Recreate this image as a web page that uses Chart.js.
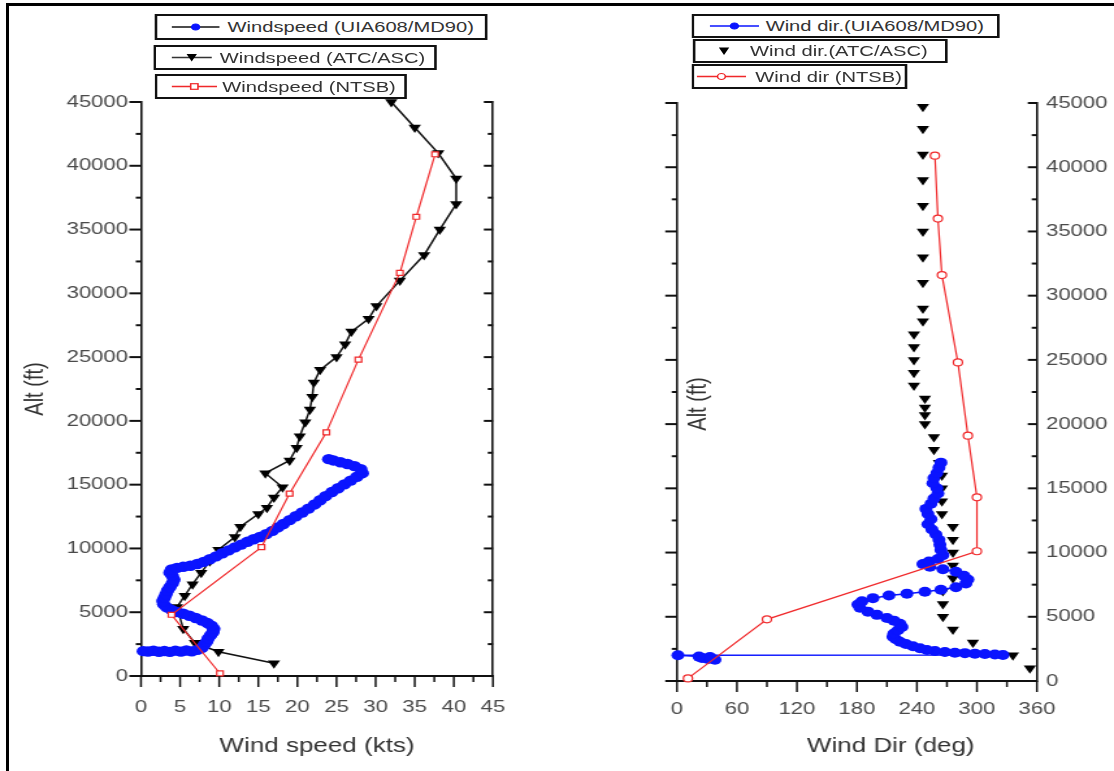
<!DOCTYPE html>
<html><head><meta charset="utf-8">
<script src="https://cdn.jsdelivr.net/npm/chart.js@4/dist/chart.umd.min.js"></script>
<style>
html,body{margin:0;padding:0;background:#fff;width:1114px;height:771px;overflow:hidden;}
#frame{position:absolute;left:6px;top:3px;width:1120px;height:780px;border-top:3px solid #000;border-left:3px solid #000;}
#wrap{position:absolute;left:0;top:0;width:857px;height:771px;transform:scaleX(1.29988);transform-origin:0 0;}
canvas{position:absolute;top:0;}
.lg{position:absolute;border:2px solid #111;background:#fff;font-family:"Liberation Sans",Arial,sans-serif;font-size:15.5px;color:#333;white-space:nowrap;box-sizing:border-box;}
.lg svg{position:absolute;top:0;}
.lg span{position:absolute;top:0;}
</style></head>
<body>
<div id="frame"></div>
<div id="wrap">
<canvas id="c1" width="430" height="771" style="left:0;width:430px;height:771px"></canvas>
<canvas id="c2" width="427" height="771" style="left:430px;width:427px;height:771px"></canvas>
</div>
<script>
// ---------- data ----------
const altTicks = [0,5000,10000,15000,20000,25000,30000,35000,40000,45000];
const speedTicks = [0,5,10,15,20,25,30,35,40,45];
const dirTicks = [0,60,120,180,240,300,360];

const uiaSpeedAlt = [1950,1920,1980,1900,1960,1890,1990,1910,2000,1930,
  2050,2200,2450,2700,2950,3200,3450,3700,3950,4150,
  4350,4550,4720,4880,5020,5180,5380,5620,5880,6150,
  6420,6700,6980,7260,7550,7850,8100,8350,8480,8560,
  8640,8780,8950,9150,9380,9620,9850,10080,10300,10520,
  10720,10900,11120,11380,11650,11920,12220,12520,12820,13120,
  13450,13780,14100,14420,14720,15020,15320,15620,15900,16220,
  16450,16620,16760,16900,17000];
const uiaSpeed = [0.3,0.9,1.6,2.3,3.0,3.7,4.4,5.1,5.8,6.5,
  7.2,7.8,8.1,8.4,8.6,8.9,9.2,9.3,9.0,8.5,
  7.8,7.0,6.2,5.4,4.6,3.9,3.3,2.9,2.8,3.0,
  3.2,3.4,3.7,4.0,4.2,4.0,3.7,3.9,4.6,5.4,
  6.3,7.2,8.0,8.8,9.6,10.4,11.2,12.0,12.8,13.6,
  14.4,15.2,16.0,16.8,17.5,18.2,19.0,19.8,20.6,21.4,
  22.2,22.9,23.6,24.4,25.2,26.0,26.8,27.6,28.3,28.1,
  27.3,26.4,25.5,24.6,24.0];

const atcSpeedAlt = [1000,1900,2600,3700,5400,6300,7200,8100,9000,9900,
  10900,11700,12700,13200,14000,14800,15900,16900,17900,18800,
  19900,20900,21900,23000,24000,25000,26000,27000,28000,29000,
  31000,33000,35000,37000,39000,41000,43000,45000];
const atcSpeed = [17.0,9.9,6.9,5.4,4.6,5.6,6.6,7.7,8.8,9.9,
  12.0,12.7,15.0,16.1,17.0,18.1,15.9,19.0,19.9,20.3,
  21.0,21.6,21.9,22.1,22.9,25.0,26.1,26.9,29.1,30.1,
  33.1,36.2,38.2,40.3,40.3,38.0,35.0,32.0];

const ntsbAlt = [200,4800,10100,14300,19100,24800,31600,36000,40900];
const ntsbSpeed = [10.1,3.9,15.4,19.0,23.7,27.8,33.1,35.2,37.6];
const ntsbDir = [11,90,300,300,291,281,265,261,258];

const uiaDirAlt = [1650,1720,1800,1870,1900,2000,2020,2060,2100,2130,
  2170,2200,2260,2330,2420,2550,2700,2880,3050,3250,
  3450,3700,3950,4200,4450,4700,4900,5150,5400,5700,
  5950,6200,6450,6650,6800,6950,7100,7300,7600,7900,
  8200,8500,8700,8900,9100,9300,9500,9800,10200,10600,
  11000,11400,11800,12200,12600,13000,13400,13800,14200,14600,
  15000,15400,15800,16200,16600,17000];
const uiaDir = [38,31,25,33,22,1,326,318,308,298,
  288,278,268,258,250,243,236,229,223,219,
  216,217,221,225,223,217,210,200,191,183,
  181,185,196,212,230,248,264,279,289,291,
  287,279,266,253,246,252,261,266,264,263,
  262,259,255,251,254,251,249,254,257,261,
  260,256,257,260,262,264];

const atcDirAlt = [1000,2000,3000,4000,5000,6000,7000,8000,9000,10000,
  11000,12000,13000,14000,15000,16000,17000,18000,19000,20000,
  20700,21300,22000,23000,24000,25000,26000,27000,28000,29000,
  31000,33000,35000,37000,39000,41000,43000,44700];
const atcDir = [353,336,296,276,266,266,266,276,276,276,
  276,276,265,265,265,265,262,257,257,248,
  248,248,248,237,237,237,237,237,246,246,
  246,246,246,246,246,246,246,246];

const speedNames = ['Windspeed (UIA608/MD90)','Windspeed (ATC/ASC)','Windspeed (NTSB)'];
const dirNames = ['Wind dir.(UIA608/MD90)','Wind dir.(ATC/ASC)','Wind dir (NTSB)'];
const axisTitles = {speed:'Wind speed (kts)', dir:'Wind Dir (deg)', alt:'Alt (ft)'};

// ---------- helpers ----------
const FONT = "'Liberation Sans', Arial, sans-serif";
Chart.defaults.font.family = FONT;
const pts = (xs, ys) => xs.map((x, i) => ({x: x, y: ys[i]}));
const setTicks = arr => (s => { s.ticks = arr.map(v => ({value: v})); });

const axisTicks = {
  id: 'axisTicks',
  afterDraw(chart, args, opts) {
    const ctx = chart.ctx, a = chart.chartArea;
    ctx.save();
    ctx.strokeStyle = '#111';
    for (const m of opts.marks) {
      const s = chart.scales[m.scale];
      const vals = [];
      m.ticks.forEach((v, i) => {
        vals.push([v, true]);
        if (i < m.ticks.length - 1) vals.push([(v + m.ticks[i + 1]) / 2, false]);
      });
      for (const [v, major] of vals) {
        const len = major ? m.major : m.minor;
        const p = s.getPixelForValue(v);
        ctx.lineWidth = m.width;
        ctx.beginPath();
        if (m.edge === 'bottom') { ctx.moveTo(p, a.bottom); ctx.lineTo(p, a.bottom + len); }
        else { const x0 = m.edge === 'left' ? a.left : a.right; ctx.moveTo(x0, p); ctx.lineTo(x0 - len, p); }
        ctx.stroke();
      }
    }
    ctx.restore();
  }
};

const extraTitles = {
  id: 'extraTitles',
  afterDraw(chart, args, opts) {
    if (!opts.show) return;
    const ctx = chart.ctx, a = chart.chartArea;
    ctx.save();
    ctx.fillStyle = '#333';
    ctx.font = '20px ' + FONT;
    ctx.textAlign = 'center';
    ctx.textBaseline = 'middle';
    ctx.fillText(axisTitles.dir, (a.left + a.right) / 2 + 26, chart.scales.x.bottom - 25);
    ctx.translate(a.left + 17, (a.top + a.bottom) / 2 + 12);
    ctx.rotate(-Math.PI / 2);
    ctx.fillText(axisTitles.alt, 0, 0);
    ctx.restore();
  }
};

const tickFont = {size: 17, family: FONT};
const titleFont = {size: 20, family: FONT};
const gridOff = {display: true, drawOnChartArea: false, drawTicks: false};

function altAxis(pos, width, showLabels, pad, title) {
  return {
    type: 'linear', position: pos, min: 0, max: 45000,
    afterBuildTicks: setTicks(altTicks),
    afterFit: s => { s.width = width; },
    grid: gridOff,
    border: {display: true, color: '#111', width: 1.6},
    ticks: {display: showLabels, padding: pad, color: '#4a4a4a', font: tickFont, callback: v => String(v)},
    title: title ? {display: true, text: axisTitles.alt, color: '#333', font: titleFont, padding: {top: 15, bottom: 0}} : {display: false}
  };
}

function xAxis(min, max, arr, height, pad, title) {
  return {
    type: 'linear', position: 'bottom', min: min, max: max,
    afterBuildTicks: setTicks(arr),
    afterFit: s => { s.height = height; },
    grid: gridOff,
    border: {display: true, color: '#111', width: 2},
    ticks: {padding: pad, color: '#4a4a4a', font: tickFont, maxRotation: 0, autoSkip: false, callback: v => String(v)},
    title: title ? {display: true, text: title, color: '#333', font: titleFont, padding: {top: 0, bottom: 13}} : {display: false}
  };
}

function marks(xArr) {
  return [
    {scale: 'x', edge: 'bottom', ticks: xArr, major: 11, minor: 6, width: 1.5},
    {scale: 'y', edge: 'left', ticks: altTicks, major: 9, minor: 4, width: 2},
    {scale: 'y2', edge: 'right', ticks: altTicks, major: 7, minor: 4, width: 2}
  ];
}

const RED = '#f0282a', BLUE = '#0a14ff';

new Chart(document.getElementById('c1'), {
  type: 'scatter',
  data: {datasets: [
    {label: speedNames[2], data: pts(ntsbSpeed, ntsbAlt), showLine: true, borderColor: RED, borderWidth: 1.2,
     pointStyle: 'rect', pointRadius: 3.5, pointBackgroundColor: '#fff', pointBorderColor: RED, pointBorderWidth: 1.2, clip: false},
    {label: speedNames[0], data: pts(uiaSpeed, uiaSpeedAlt), showLine: true, borderColor: BLUE, borderWidth: 1.5,
     pointStyle: 'circle', pointRadius: 5.2, pointBackgroundColor: BLUE, pointBorderColor: BLUE, pointBorderWidth: 0, clip: false},
    {label: speedNames[1], data: pts(atcSpeed, atcSpeedAlt), showLine: true, borderColor: '#111', borderWidth: 1.5,
     pointStyle: 'triangle', rotation: 180, pointRadius: 5.5, pointBackgroundColor: '#000', pointBorderColor: '#000', pointBorderWidth: 0, clip: false}
  ]},
  options: {
    responsive: false, animation: false, devicePixelRatio: 1,
    layout: {padding: {top: 102, left: 0, right: 49.77, bottom: 0}},
    plugins: {legend: {display: false}, tooltip: {enabled: false}, axisTicks: {marks: marks(speedTicks)}, extraTitles: {show: false}},
    scales: {
      x: xAxis(0, 45, speedTicks, 95, 21, axisTitles.speed),
      y: altAxis('left', 108.46, true, 10, true),
      y2: altAxis('right', 1, false, 0, false)
    }
  },
  plugins: [axisTicks, extraTitles]
});

new Chart(document.getElementById('c2'), {
  type: 'scatter',
  data: {datasets: [
    {label: dirNames[2], data: pts(ntsbDir, ntsbAlt), showLine: true, borderColor: RED, borderWidth: 1.2,
     pointStyle: 'circle', pointRadius: 3.5, pointBackgroundColor: '#fff', pointBorderColor: RED, pointBorderWidth: 1.2, clip: false},
    {label: dirNames[0], data: pts(uiaDir, uiaDirAlt), showLine: true, borderColor: BLUE, borderWidth: 1.5,
     pointStyle: 'circle', pointRadius: 5, pointBackgroundColor: BLUE, pointBorderColor: BLUE, pointBorderWidth: 0, clip: false},
    {label: dirNames[1], data: pts(atcDir, atcDirAlt), showLine: false,
     pointStyle: 'triangle', rotation: 180, pointRadius: 5.5, pointBackgroundColor: '#000', pointBorderColor: '#000', pointBorderWidth: 0, clip: false}
  ]},
  options: {
    responsive: false, animation: false, devicePixelRatio: 1,
    layout: {padding: {top: 103, left: 0, right: 0, bottom: 0}},
    plugins: {legend: {display: false}, tooltip: {enabled: false}, axisTicks: {marks: marks(dirTicks)}, extraTitles: {show: true}},
    scales: {
      x: xAxis(0, 360, dirTicks, 90, 18, null),
      y: altAxis('left', 90.77, false, 0, false),
      y2: altAxis('right', 59.31, true, 7, false)
    }
  },
  plugins: [axisTicks, extraTitles]
});

// ---------- legends (HTML boxes) ----------
function sample(s) {
  let g = `<svg width="${s.w}" height="${s.h}" style="left:${s.x}px">`;
  const cy = s.h / 2, cx = s.w / 2;
  if (s.line) g += `<line x1="0" y1="${cy}" x2="${s.w}" y2="${cy}" stroke="${s.line}" stroke-width="1.3"/>`;
  if (s.marker === 'circle') g += `<circle cx="${cx}" cy="${cy}" r="3" fill="${s.fill}" stroke="${s.stroke}" stroke-width="1.2"/>`;
  if (s.marker === 'rect') g += `<rect x="${cx-2.8}" y="${cy-2.8}" width="5.6" height="5.6" fill="${s.fill}" stroke="${s.stroke}" stroke-width="1.2"/>`;
  if (s.marker === 'tri') g += `<polygon points="${cx-4},${cy-3.5} ${cx+4},${cy-3.5} ${cx},${cy+4}" fill="#000"/>`;
  return g + '</svg>';
}
const legends = [
  {left: 119, top: 14, w: 256, h: 26, text: speedNames[0], tx: 54, s: {x: 11, w: 37, line: '#111', marker: 'circle', fill: BLUE, stroke: BLUE}},
  {left: 118, top: 45, w: 218, h: 25, text: speedNames[1], tx: 49, s: {x: 12, w: 31, line: '#333', marker: 'tri'}},
  {left: 119, top: 74, w: 194, h: 25, text: speedNames[2], tx: 50, s: {x: 11, w: 35, line: RED, marker: 'rect', fill: '#fff', stroke: RED}},
  {left: 532, top: 14, w: 237, h: 24, text: dirNames[0], tx: 55, s: {x: 12, w: 38, line: BLUE, marker: 'circle', fill: BLUE, stroke: BLUE}},
  {left: 533, top: 39, w: 196, h: 24, text: dirNames[1], tx: 42, s: {x: 15, w: 14, line: null, marker: 'tri'}},
  {left: 532, top: 64, w: 166, h: 25, text: dirNames[2], tx: 47, s: {x: 2, w: 38, line: RED, marker: 'circle', fill: '#fff', stroke: RED}}
];
const wrap = document.getElementById('wrap');
legends.forEach(l => {
  const d = document.createElement('div');
  d.className = 'lg';
  d.style.cssText = `left:${l.left}px;top:${l.top}px;width:${l.w}px;height:${l.h}px;line-height:${l.h - 4}px;`;
  l.s.h = l.h - 4;
  d.innerHTML = sample(l.s) + `<span style="left:${l.tx}px">${l.text}</span>`;
  wrap.appendChild(d);
});
</script>
</body></html>
